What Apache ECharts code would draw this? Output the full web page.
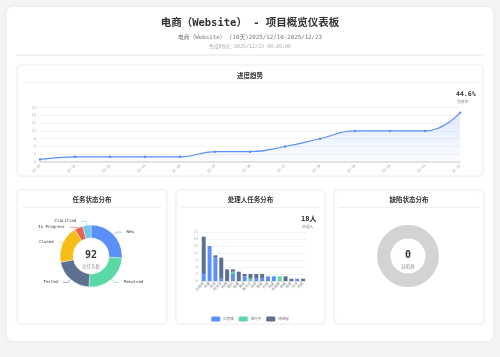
<!DOCTYPE html>
<html>
<head>
<meta charset="utf-8">
<script src="https://cdn.jsdelivr.net/npm/echarts@6/dist/echarts.min.js"></script>
<style>
html,body{margin:0;padding:0;background:#f4f4f4;}
#c{width:500px;height:357px;}
</style>
</head>
<body>
<div id="c"></div>
<script>
// ---- data ----
const lineDates = ['12-10','12-11','12-12','12-13','12-14','12-15','12-16','12-17','12-18','12-19','12-20','12-21','12-22'];
const lineValues = [1,2,2,2,2,4,4,6,9,12,12,12,19];
const completionRate = '44.6%';

const statusNames = ['New','Resolved','Tested','Closed','In Progress','Clarified'];
const statusValues = [24,23,19,18,4,4];

const handlerNames = ['王晓明','李娜','张伟','刘洋洋','陈静','杨帆','赵磊','黄敏','周杰伦','吴婷','徐强','孙丽','马超','朱琳琳','胡斌','郭阳','何欣','高峰'];
const doneValues  = [3,15,10,1,0,3,0,2,0,1,1,2,2,0,0,0,1,0];
const doingValues = [0,0,0,0,0,1,0,0,1,0,0,0,0,2,0,0,0,0];
const todoValues  = [16,0,1,9,5,1,4,1,2,2,2,0,0,0,2,1,0,1];
const barLegend = ['已完成','进行中','待处理'];

const defectNames = [];
const defectValues = [];

// ---- chart ----
const FF = "'DejaVu Sans Mono','Noto Sans CJK SC',monospace";
const total = statusValues.reduce((a,b)=>a+b,0);
const defectTotal = defectValues.reduce((a,b)=>a+b,0);
const colors = ['#5B8FF9','#5AD8A6','#5D7092','#F6BD16','#E86452','#6DC8EC'];

function card(x,y,w,h){
  return {type:'rect',shape:{x:x,y:y,width:w,height:h,r:4},z:-9,
    style:{fill:'#fff',stroke:'#f0f0f0',lineWidth:1,shadowBlur:3,shadowColor:'rgba(0,0,0,0.05)'}};
}
function txt(t,x,y,size,color,weight,align){
  return {type:'text',x:x,y:y,z:5,style:{text:t,fill:color,fontSize:size,fontWeight:weight||'normal',
    fontFamily:FF,textAlign:align||'center',textVerticalAlign:'middle'}};
}
function hline(x1,x2,y,color){
  return {type:'line',z:-8,shape:{x1:x1,y1:y,x2:x2,y2:y},style:{stroke:color||'#f0f0f0',lineWidth:1}};
}

const chart = echarts.init(document.getElementById('c'));
chart.setOption({
  backgroundColor:'#f4f4f4',
  animation:false,
  textStyle:{fontFamily:FF},
  graphic:[
    {type:'rect',shape:{x:7,y:7,width:486,height:334,r:6},z:-10,
      style:{fill:'#fff',shadowBlur:6,shadowColor:'rgba(0,0,0,0.06)'}},
    txt('电商（Website） - 项目概览仪表板',250,23,10.5,'#333','bold'),
    txt('电商（Website） (10天)2025/12/10-2025/12/23',250,37,5.8,'#777'),
    txt('生成时间：2025/12/23 08:45:06',250,46.5,5,'#aaa'),
    {type:'line',z:-8,shape:{x1:16,y1:55,x2:484,y2:55},style:{stroke:'#eeeeee',lineWidth:1.5}},
    card(17,65,466,111),
    txt('进度趋势',250,76,6.5,'#333','bold'),
    hline(22,478,82.5),
    txt(completionRate,456,94.5,6.5,'#333','bold','left'),
    txt('完成率',457,102.5,3.8,'#888','normal','left'),
    card(17,190,150,134),
    txt('任务状态分布',92,200.5,6.5,'#333','bold'),
    hline(22,162,207.5),
    txt(String(total),91,255.5,10,'#333','bold'),
    txt('总任务数',91,266.5,4.5,'#999'),
    card(176,190,149,134),
    txt('处理人任务分布',250.5,200.5,6.5,'#333','bold'),
    hline(181,320,207.5),
    txt(handlerNames.length+'人',301,219,7,'#333','bold','left'),
    txt('处理人',302,227.5,3.8,'#888','normal','left'),
    card(334,190,150,134),
    txt('缺陷状态分布',409,200.5,6.5,'#333','bold'),
    hline(339,479,207.5),
    txt(String(defectTotal),408,255.5,10,'#333','bold'),
    txt('缺陷数',408,267,4.5,'#999')
  ],
  legend:{
    data:barLegend, left:'center', top:311.5, itemWidth:9, itemHeight:5, itemGap:5,
    icon:'roundRect',
    textStyle:{fontSize:3.5,color:'#666',fontFamily:FF,padding:[0,0,0,-2]}
  },
  grid:[
    {left:40,right:40,top:107.7,bottom:195,containLabel:false},
    {left:200.8,right:194,top:232,bottom:76,containLabel:false}
  ],
  xAxis:[
    {type:'category',gridIndex:0,data:lineDates,boundaryGap:false,
      axisLine:{lineStyle:{color:'#ddd',width:1.5}},axisTick:{show:false},
      axisLabel:{rotate:45,fontSize:3.5,color:'#999',margin:3}},
    {type:'category',gridIndex:1,data:handlerNames,
      axisLine:{lineStyle:{color:'#ddd',width:1}},axisTick:{show:false},
      axisLabel:{rotate:45,fontSize:3.5,color:'#888',margin:2,interval:0}}
  ],
  yAxis:[
    {type:'value',gridIndex:0,min:0,max:21,interval:3,
      axisLabel:{fontSize:3.5,color:'#aaa',margin:4},
      axisLine:{show:false},axisTick:{show:false},
      splitLine:{lineStyle:{color:'#f3f3f3',width:1}}},
    {type:'value',gridIndex:1,min:0,max:21,interval:3,
      axisLabel:{fontSize:3.5,color:'#aaa',margin:3},
      axisLine:{show:false},axisTick:{show:false},
      splitLine:{lineStyle:{color:'#f3f3f3',width:1}}}
  ],
  series:[
    {type:'line',xAxisIndex:0,yAxisIndex:0,data:lineValues,smooth:true,
      symbol:'circle',symbolSize:2.5,
      lineStyle:{color:'#5B8FF9',width:1.2},itemStyle:{color:'#5B8FF9'},
      areaStyle:{color:new echarts.graphic.LinearGradient(0,0,0,1,[
        {offset:0,color:'rgba(91,143,249,0.28)'},{offset:1,color:'rgba(91,143,249,0.04)'}])}},
    {type:'pie',center:[91,256],radius:[18,31],startAngle:90,
      data:statusNames.map((n,i)=>({name:n,value:statusValues[i],itemStyle:{color:colors[i]}})),
      itemStyle:{borderColor:'#fff',borderWidth:0.4},
      label:{fontSize:4,color:'#333',fontFamily:FF},
      labelLine:{length:4,length2:5,lineStyle:{width:0.6}}},
    {type:'bar',name:barLegend[0],stack:'s',xAxisIndex:1,yAxisIndex:1,data:doneValues,
      barWidth:'68%',itemStyle:{color:'#5B8FF9'}},
    {type:'bar',name:barLegend[1],stack:'s',xAxisIndex:1,yAxisIndex:1,data:doingValues,
      barWidth:'68%',itemStyle:{color:'#5AD8A6'}},
    {type:'bar',name:barLegend[2],stack:'s',xAxisIndex:1,yAxisIndex:1,data:todoValues,
      barWidth:'68%',itemStyle:{color:'#5D7092'}},
    {type:'pie',center:[408,256],radius:[17.5,31],showEmptyCircle:true,
      emptyCircleStyle:{color:'#d3d3d3'},
      data:defectNames.map((n,i)=>({name:n,value:defectValues[i]})),
      label:{show:false}}
  ]
});
</script>
</body>
</html>
